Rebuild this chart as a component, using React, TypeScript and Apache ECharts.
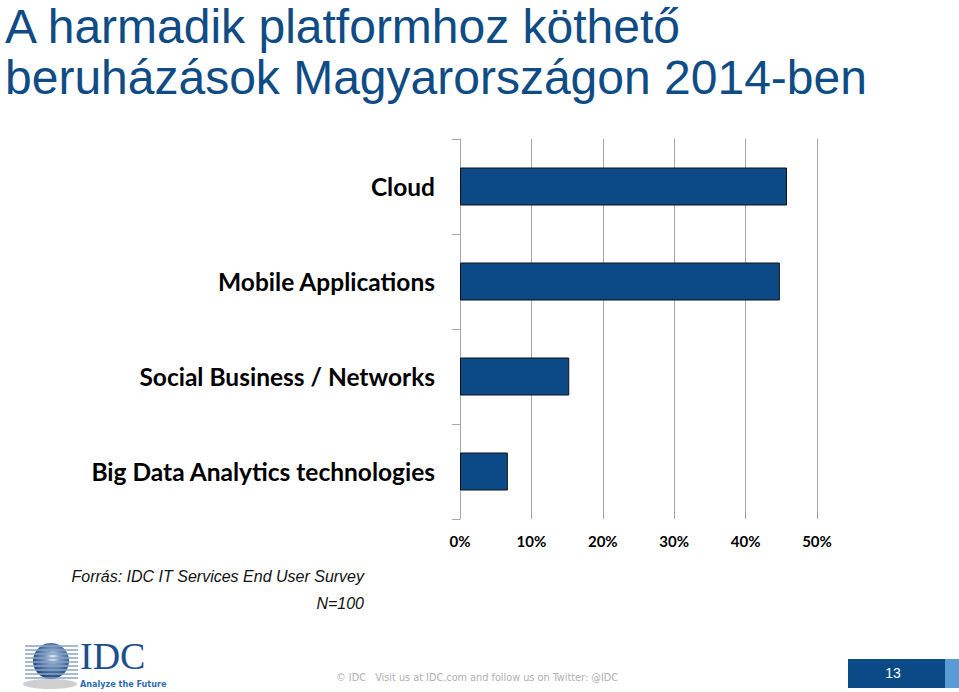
import React, { useEffect, useRef } from "react";
import * as echarts from "echarts";

const categories = [
  "Cloud",
  "Mobile Applications",
  "Social Business / Networks",
  "Big Data Analytics technologies",
];
const values = [0.458, 0.448, 0.153, 0.067];
const xTicks = [0, 0.1, 0.2, 0.3, 0.4, 0.5];

const titleLines = ["A harmadik platformhoz köthető", "beruházások Magyarországon 2014-ben"];
const sourceText = "Forrás: IDC IT Services End User Survey";
const sampleText = "N=100";
const footerText = "© IDC   Visit us at IDC.com and follow us on Twitter: @IDC";
const pageNumber = "13";

export default function App() {
  const ref = useRef<HTMLDivElement>(null);
  useEffect(() => {
    document.body.style.margin = "0";
    const chart = echarts.init(ref.current!, null, { renderer: "svg" });
    const stripeYs = [646, 650, 654, 658, 662, 666, 670, 674, 678];
    const stripes = stripeYs.map((y) => ({
      type: "line",
      shape: { x1: 25, y1: y, x2: 78, y2: y },
      style: { stroke: "#8aa3c4", lineWidth: 1.5 },
      z: 12,
    }));
    chart.setOption({
      animation: false,
      backgroundColor: "#ffffff",
      grid: { left: 460, right: 142, top: 139, bottom: 173, containLabel: false },
      xAxis: {
        type: "value",
        min: 0,
        max: 0.5,
        interval: 0.1,
        axisLine: { show: false },
        axisTick: { show: false },
        splitLine: { show: true, lineStyle: { color: "#a6a6a6", width: 1 } },
        axisLabel: {
          formatter: (v: number) => (xTicks.includes(Math.round(v * 10) / 10) ? Math.round(v * 100) + "%" : ""),
          fontFamily: "Lato, 'Open Sans', sans-serif",
          fontWeight: "bold",
          fontSize: 15,
          color: "#000",
          margin: 14,
        },
      },
      yAxis: {
        type: "category",
        inverse: true,
        data: categories,
        axisLine: { show: true, lineStyle: { color: "#a6a6a6" } },
        axisTick: { show: true, length: 8, lineStyle: { color: "#a6a6a6" } },
        axisLabel: {
          fontFamily: "Lato, 'Open Sans', sans-serif",
          fontWeight: "bold",
          fontSize: 24.5,
          color: "#000",
          margin: 25,
        },
      },
      series: [
        {
          type: "bar",
          data: values,
          barCategoryGap: "60%",
          itemStyle: { color: "#0b4a86", borderColor: "#111", borderWidth: 1 },
        },
      ],
      graphic: [
        {
          type: "text",
          left: 5,
          top: 2,
          style: {
            text: titleLines[0],
            font: "48px 'Liberation Sans', Arial, sans-serif",
            fill: "#0f4c85",
          },
        },
        {
          type: "text",
          left: 5,
          top: 53,
          style: {
            text: titleLines[1],
            font: "48px 'Liberation Sans', Arial, sans-serif",
            fill: "#0f4c85",
          },
        },
        {
          type: "text",
          x: 364,
          y: 576,
          style: {
            text: sourceText,
            font: "italic 16px 'Liberation Sans', Arial, sans-serif",
            fill: "#111",
            align: "right",
            verticalAlign: "middle",
          },
        },
        {
          type: "text",
          x: 364,
          y: 603,
          style: {
            text: sampleText,
            font: "italic 16px 'Liberation Sans', Arial, sans-serif",
            fill: "#111",
            align: "right",
            verticalAlign: "middle",
          },
        },
        {
          type: "text",
          x: 336,
          y: 677,
          style: {
            text: footerText,
            font: "10.8px 'Liberation Sans Narrow', 'DejaVu Sans Condensed', Arial, sans-serif",
            fill: "#b0b0b0",
            align: "left",
            verticalAlign: "middle",
          },
        },
        {
          type: "rect",
          shape: { x: 848, y: 659, width: 97, height: 29 },
          style: { fill: "#0b4a86" },
        },
        {
          type: "rect",
          shape: { x: 945, y: 659, width: 14, height: 29 },
          style: { fill: "#5b9bd5" },
        },
        {
          type: "text",
          x: 893,
          y: 673,
          style: {
            text: pageNumber,
            font: "14px 'Liberation Sans', Arial, sans-serif",
            fill: "#fff",
            align: "center",
            verticalAlign: "middle",
          },
        },
        {
          type: "ellipse",
          shape: { cx: 50, cy: 684, rx: 27, ry: 5 },
          style: { fill: "#cfcfcf" },
          z: 10,
        },
        {
          type: "circle",
          shape: { cx: 51, cy: 661, r: 18 },
          style: {
            fill: new echarts.graphic.RadialGradient(0.55, 0.4, 0.65, [
              { offset: 0, color: "#f2f5fa" },
              { offset: 0.3, color: "#7e9cc4" },
              { offset: 1, color: "#123a74" },
            ]),
          },
          z: 11,
        },
        ...stripes,
        {
          type: "text",
          x: 80,
          y: 675,
          style: {
            text: "IDC",
            font: "38px 'Liberation Serif', 'DejaVu Serif', serif",
            fill: "#1d4f8c",
            verticalAlign: "bottom",
          },
          z: 12,
        },
        {
          type: "text",
          x: 80,
          y: 679,
          style: {
            text: "Analyze the Future",
            font: "bold 9px 'Liberation Sans Narrow', 'DejaVu Sans Condensed', Arial, sans-serif",
            fill: "#2e6db4",
            verticalAlign: "top",
          },
          z: 12,
        },
      ],
    });
    return () => chart.dispose();
  }, []);
  return <div ref={ref} style={{ width: 959, height: 692 }} />;
}
